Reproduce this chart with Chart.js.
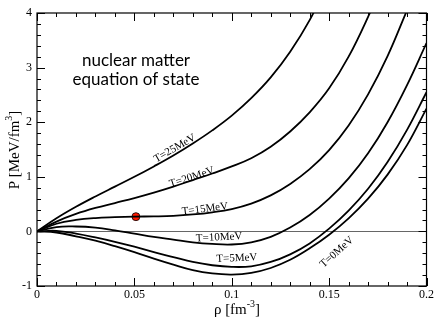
<!DOCTYPE html>
<html lang="en">
<head>
<meta charset="UTF-8">
<title>nuclear matter equation of state</title>
<script src="https://cdn.jsdelivr.net/npm/chart.js@4.4.0/dist/chart.umd.min.js"></script>
<style>
  html, body { margin: 0; padding: 0; background: #fff; }
</style>
</head>
<body>
<canvas id="chart" width="436" height="327"></canvas>
<script>
    // density grid [fm^-3] and pressure [MeV/fm^3] per temperature
    var rho = [0, 0.01, 0.02, 0.03, 0.04, 0.05, 0.06, 0.07, 0.08, 0.09, 0.10,
               0.11, 0.12, 0.13, 0.14, 0.15, 0.16, 0.17, 0.18, 0.19, 0.20];
    var pT0  = [0, -0.02, -0.09, -0.17, -0.27, -0.38, -0.50, -0.61, -0.71, -0.77, -0.79,
                -0.76, -0.67, -0.52, -0.31, -0.06, 0.24, 0.60, 1.04, 1.58, 2.25];
    var pT5  = [0, 0.01, -0.04, -0.11, -0.19, -0.28, -0.38, -0.47, -0.56, -0.62, -0.65,
                -0.64, -0.56, -0.42, -0.22, 0.05, 0.38, 0.78, 1.27, 1.86, 2.55];
    var pT10 = [0, 0.08, 0.09, 0.07, 0.02, -0.04, -0.10, -0.15, -0.20, -0.23, -0.24,
                -0.20, -0.10, 0.07, 0.30, 0.60, 0.97, 1.43, 2.00, 2.68, 3.45];
    var pT15 = [0, 0.14, 0.21, 0.245, 0.26, 0.27, 0.275, 0.285, 0.31, 0.35, 0.41,
                0.51, 0.66, 0.87, 1.14, 1.49, 1.94, 2.51, 3.21, 4.05, null];
    var pT20 = [0, 0.18, 0.32, 0.43, 0.52, 0.61, 0.71, 0.82, 0.94, 1.06, 1.19,
                1.34, 1.55, 1.83, 2.18, 2.62, 3.20, 3.93, 4.75, null, null];
    var pT25 = [0, 0.24, 0.45, 0.64, 0.82, 1.00, 1.19, 1.39, 1.61, 1.85, 2.12,
                2.44, 2.82, 3.29, 3.87, 4.59, null, null, null, null, null];
    var curveNames = ['T=0MeV', 'T=5MeV', 'T=10MeV', 'T=15MeV', 'T=20MeV', 'T=25MeV'];
    var curves = [pT0, pT5, pT10, pT15, pT20, pT25];
    var marker = { rho: 0.0508, p: 0.27 };

    var xTicks = [0, 0.05, 0.1, 0.15, 0.2];
    var yTicks = [-1, 0, 1, 2, 3, 4];

    // where the curve names sit: rho, P, rotation (deg)
    var curveLabels = [
        { text: 'T=0MeV',  x: 0.1540, y: -0.38, rot: -42 },
        { text: 'T=5MeV',  x: 0.1026, y: -0.49, rot: -3 },
        { text: 'T=10MeV', x: 0.0935, y: -0.11, rot: -3 },
        { text: 'T=15MeV', x: 0.0862, y: 0.41,  rot: -7 },
        { text: 'T=20MeV', x: 0.0795, y: 0.99,  rot: -18 },
        { text: 'T=25MeV', x: 0.0708, y: 1.52,  rot: -30 }
    ];

    var serif = '"Liberation Serif", "DejaVu Serif", serif';

    var datasets = curves.map(function (c, i) {
        return {
            label: curveNames[i],
            data: rho.map(function (r, j) { return { x: r, y: c[j] }; }),
            borderColor: '#000',
            borderWidth: 1.8,
            pointRadius: 0,
            fill: false,
            tension: 0.4,
            spanGaps: false
        };
    });
    datasets.push({
        type: 'scatter',
        label: 'point',
        data: [{ x: marker.rho, y: marker.p }],
        pointRadius: 4,
        backgroundColor: '#ff1a00',
        borderColor: '#000',
        borderWidth: 0.8
    });

    function sup(ctx, parts, x, y, align) {
        // parts: [text, isSuper]
        var total = 0;
        parts.forEach(function (p) {
            ctx.font = p[1] ? '10px ' + serif : '15px ' + serif;
            total += ctx.measureText(p[0]).width;
        });
        var cx = align === 'center' ? x - total / 2 : x;
        parts.forEach(function (p) {
            ctx.font = p[1] ? '10px ' + serif : '15px ' + serif;
            ctx.fillText(p[0], cx, p[1] ? y - 7 : y);
            cx += ctx.measureText(p[0]).width;
        });
    }

    var decor = {
        id: 'decor',
        afterDraw: function (chart) {
            var ctx = chart.ctx, a = chart.chartArea;
            var xs = chart.scales.x, ys = chart.scales.y;
            ctx.save();
            ctx.strokeStyle = '#000';
            ctx.lineWidth = 1.2;
            ctx.strokeRect(a.left, a.top, a.right - a.left, a.bottom - a.top);

            // inward ticks on all four sides
            ctx.lineWidth = 1;
            ctx.beginPath();
            for (var i = 0; i <= 20; i++) {
                var px = Math.round(xs.getPixelForValue(i * 0.01)) + 0.5;
                var len = i % 5 === 0 ? 8 : 4;
                ctx.moveTo(px, a.bottom); ctx.lineTo(px, a.bottom - len);
                ctx.moveTo(px, a.top); ctx.lineTo(px, a.top + len);
            }
            for (var k = 0; k <= 25; k++) {
                var py = Math.round(ys.getPixelForValue(-1 + k * 0.2)) + 0.5;
                var ln = k % 5 === 0 ? 8 : 4;
                ctx.moveTo(a.left, py); ctx.lineTo(a.left + ln, py);
                ctx.moveTo(a.right, py); ctx.lineTo(a.right - ln, py);
            }
            ctx.stroke();

            // curve names
            ctx.fillStyle = '#000';
            ctx.font = '11px ' + serif;
            ctx.textAlign = 'center';
            ctx.textBaseline = 'middle';
            curveLabels.forEach(function (l) {
                ctx.save();
                ctx.translate(xs.getPixelForValue(l.x), ys.getPixelForValue(l.y));
                ctx.rotate(l.rot * Math.PI / 180);
                ctx.fillText(l.text, 0, 0);
                ctx.restore();
            });

            // panel annotation
            ctx.font = '17px Lato, "Open Sans", sans-serif';
            ctx.fillText('nuclear matter', 136, 61);
            ctx.fillText('equation of state', 136, 80);

            // axis titles
            ctx.textAlign = 'left';
            ctx.textBaseline = 'alphabetic';
            sup(ctx, [['\u03c1 [fm', false], ['-3', true], [']', false]], 237, 314, 'center');
            ctx.save();
            ctx.translate(19, 150);
            ctx.rotate(-Math.PI / 2);
            sup(ctx, [['P [MeV/fm', false], ['3', true], [']', false]], 0, 0, 'center');
            ctx.restore();
            ctx.restore();
        }
    };

    var chart = new Chart(document.getElementById('chart'), {
        type: 'line',
        data: { datasets: datasets },
        options: {
            responsive: false,
            animation: false,
            layout: { padding: { top: 13, right: 9, left: 0, bottom: 0 } },
            plugins: { legend: { display: false }, tooltip: { enabled: false } },
            scales: {
                x: {
                    type: 'linear',
                    min: 0, max: 0.2,
                    afterFit: function (s) { s.height = 41; },
                    afterBuildTicks: function (s) { s.ticks = xTicks.map(function (v) { return { value: v }; }); },
                    grid: { display: false, drawTicks: false },
                    border: { display: false },
                    ticks: {
                        color: '#000', padding: 2,
                        font: { family: serif, size: 12 },
                        maxRotation: 0,
                        callback: function (v) { return String(Math.round(v * 100) / 100); }
                    }
                },
                y: {
                    type: 'linear',
                    min: -1, max: 4,
                    afterFit: function (s) { s.width = 37; },
                    afterBuildTicks: function (s) { s.ticks = yTicks.map(function (v) { return { value: v }; }); },
                    grid: {
                        drawTicks: false,
                        lineWidth: 1,
                        color: function (c) { return c.tick && c.tick.value === 0 ? '#666' : 'rgba(0,0,0,0)'; }
                    },
                    border: { display: false },
                    ticks: {
                        color: '#000', padding: 5,
                        font: { family: serif, size: 12 }
                    }
                }
            }
        },
        plugins: [decor]
    });
</script>
</body>
</html>
